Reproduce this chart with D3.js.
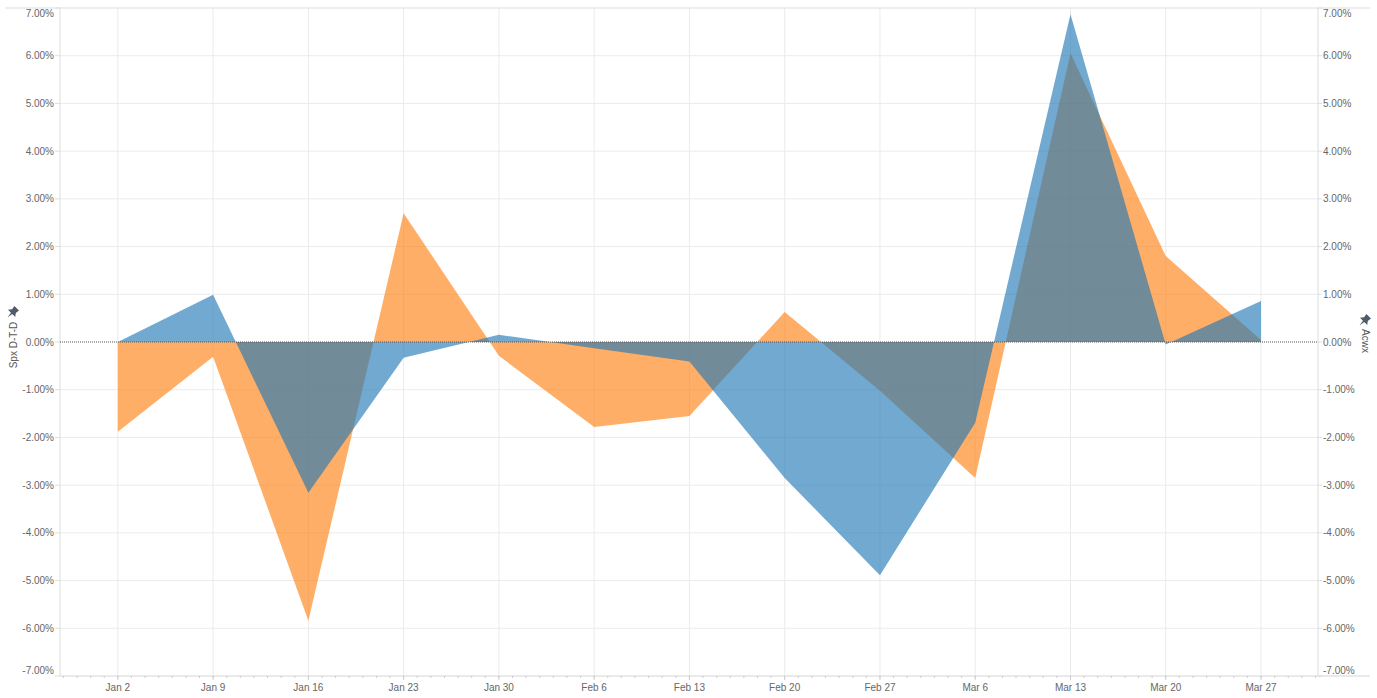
<!DOCTYPE html>
<html>
<head>
<meta charset="utf-8">
<script src="https://cdn.jsdelivr.net/npm/d3@7"></script>
<style>
  html, body { margin: 0; padding: 0; background: #fff; }
  svg { display: block; font-family: "Liberation Sans", Arial, sans-serif; }
</style>
</head>
<body>
<svg id="chart" width="1377" height="698"></svg>
<script>
// ---- data ----
const weekLabels = ["Jan 2","Jan 9","Jan 16","Jan 23","Jan 30","Feb 6","Feb 13","Feb 20","Feb 27","Mar 6","Mar 13","Mar 20","Mar 27"];
const weekDates = ["2019-01-02","2019-01-09","2019-01-16","2019-01-23","2019-01-30","2019-02-06","2019-02-13","2019-02-20","2019-02-27","2019-03-06","2019-03-13","2019-03-20","2019-03-27"];
const spxValues  = [0.00, 0.99, -3.16, -0.33, 0.15, -0.13, -0.41, -2.85, -4.89, -1.69, 6.87, -0.05, 0.86];
const acwxValues = [-1.88, -0.31, -5.84, 2.70, -0.29, -1.78, -1.55, 0.63, -1.02, -2.85, 6.05, 1.80, 0.04];
const yTicks = [-7,-6,-5,-4,-3,-2,-1,0,1,2,3,4,5,6,7];
const leftTitle = "Spx D-T-D";
const rightTitle = "Acwx";

// ---- layout ----
const svg = d3.select("#chart");
const L = 60, R = 1318, T = 8, B = 676;
const parse = d3.timeParse("%Y-%m-%d");
const dates = weekDates.map(parse);

const x = d3.scaleTime()
  .domain([new Date(2018, 11, 28, 18), new Date(2019, 2, 31, 4, 30)])
  .range([L, R]);
const yL = d3.scaleLinear().domain([-7, 7]).range([B, T]);
const yR = d3.scaleLinear().domain([-7, 7]).range([B, T]);

const gridColor = "#ebebeb";
const textColor = "#666";

// grid
const g = svg.append("g");
g.selectAll(".hg").data(yTicks.filter(d => d !== 0 && Math.abs(d) < 7)).join("line")
  .attr("x1", L).attr("x2", R)
  .attr("y1", d => yL(d)).attr("y2", d => yL(d))
  .attr("stroke", gridColor).attr("stroke-width", 1);
g.selectAll(".vg").data(dates).join("line")
  .attr("x1", d => x(d)).attr("x2", d => x(d))
  .attr("y1", T).attr("y2", B)
  .attr("stroke", gridColor).attr("stroke-width", 1);

// borders
svg.append("line").attr("x1", 5).attr("x2", 1370).attr("y1", T).attr("y2", T).attr("stroke", "#ddd");
svg.append("line").attr("x1", L).attr("x2", 1370).attr("y1", B).attr("y2", B).attr("stroke", "#d4d4d4");
svg.append("line").attr("x1", L).attr("x2", L).attr("y1", T).attr("y2", B).attr("stroke", "#ddd");
svg.append("line").attr("x1", R).attr("x2", R).attr("y1", T).attr("y2", B).attr("stroke", "#ddd");

// areas
const areaOrange = d3.area()
  .x((d, i) => x(dates[i]))
  .y0(yR(0))
  .y1(d => yR(d));
const areaBlue = d3.area()
  .x((d, i) => x(dates[i]))
  .y0(yL(0))
  .y1(d => yL(d));

svg.append("path").datum(acwxValues)
  .attr("d", areaOrange)
  .attr("fill", "#ff7f0e").attr("fill-opacity", 0.63);
svg.append("path").datum(spxValues)
  .attr("d", areaBlue)
  .attr("fill", "#1f77b4").attr("fill-opacity", 0.63);

// zero line
svg.append("line").attr("x1", L).attr("x2", R)
  .attr("y1", yL(0)).attr("y2", yL(0))
  .attr("stroke", "#555").attr("stroke-width", 1)
  .attr("stroke-dasharray", "1,1");

// left axis
const fmt = d => d.toFixed(2) + "%";
const labY = d => d === 7 ? yL(d) + 5 : d === -7 ? yL(d) - 6 : yL(d);
const la = svg.append("g");
la.selectAll("line").data(yTicks).join("line")
  .attr("x1", L - 5).attr("x2", L).attr("y1", d => yL(d)).attr("y2", d => yL(d))
  .attr("stroke", "#ddd");
la.selectAll("text").data(yTicks).join("text")
  .attr("x", L - 6).attr("y", d => labY(d)).attr("dy", "0.35em")
  .attr("text-anchor", "end").attr("font-size", 10).attr("fill", textColor)
  .text(fmt);

// right axis
const ra = svg.append("g");
ra.selectAll("line").data(yTicks).join("line")
  .attr("x1", R).attr("x2", R + 4).attr("y1", d => yR(d)).attr("y2", d => yR(d))
  .attr("stroke", "#ddd");
ra.selectAll("text").data(yTicks).join("text")
  .attr("x", R + 5).attr("y", d => d === 7 ? yR(d) + 5 : d === -7 ? yR(d) - 6 : yR(d)).attr("dy", "0.35em")
  .attr("text-anchor", "start").attr("font-size", 10).attr("fill", textColor)
  .text(fmt);

// bottom axis: daily minor ticks + weekly labels
const days = d3.timeDay.range(x.domain()[0], x.domain()[1]);
svg.append("g").selectAll("line").data(days).join("line")
  .attr("x1", d => x(d)).attr("x2", d => x(d))
  .attr("y1", B).attr("y2", B + 2)
  .attr("stroke", "#ccc");
svg.append("g").selectAll("line").data(dates).join("line")
  .attr("x1", d => x(d)).attr("x2", d => x(d))
  .attr("y1", B).attr("y2", B + 4)
  .attr("stroke", "#ccc");
svg.append("g").selectAll("text").data(dates).join("text")
  .attr("x", d => x(d)).attr("y", 687).attr("dy", "0.35em")
  .attr("text-anchor", "middle").attr("font-size", 10).attr("fill", textColor)
  .text((d, i) => weekLabels[i]);

// axis titles with pin icons
function pin(gx, gy, rot) {
  svg.append("path")
    .attr("transform", `translate(${gx},${gy}) rotate(${rot}) scale(1.3)`)
    .attr("d", "M-2.5,-4 L2.5,-4 L2,-1 L4,1.5 L-4,1.5 L-2,-1 Z M-0.7,1.5 L0.7,1.5 L0,6 Z")
    .attr("fill", "#4f5b66");
}
svg.append("text")
  .attr("transform", `translate(17,345) rotate(-90)`)
  .attr("text-anchor", "middle").attr("font-size", 10).attr("fill", "#555")
  .text(leftTitle);
pin(13, 312, 45);
svg.append("text")
  .attr("transform", `translate(1362,341) rotate(90)`)
  .attr("text-anchor", "middle").attr("font-size", 10).attr("fill", "#555")
  .text(rightTitle);
pin(1365, 320, 45);
</script>
</body>
</html>
